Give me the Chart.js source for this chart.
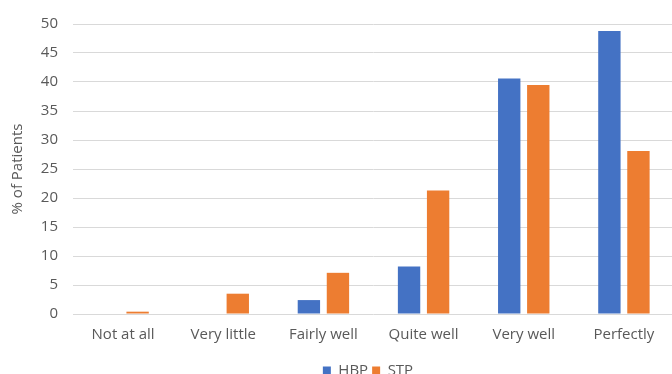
<!DOCTYPE html>
<html>
<head>
<meta charset="utf-8">
<script src="https://cdn.jsdelivr.net/npm/chart.js@4/dist/chart.umd.min.js"></script>
<style>
  html, body { margin: 0; padding: 0; background: #fff; overflow: hidden; }
  #wrap { position: relative; width: 674px; height: 388px; }
</style>
</head>
<body>
<div id="wrap"><canvas id="chart"></canvas></div>
<script>
// Response categories
const categories = ['Not at all', 'Very little', 'Fairly well', 'Quite well', 'Very well', 'Perfectly'];
// Percentage of patients per response
const hbpValues = [0, 0, 2.4, 8.2, 40.6, 48.8];
const stpValues = [0.4, 3.5, 7.1, 21.3, 39.5, 28.1];
const seriesNames = ['HBP', 'STP'];
const yTicks = [0, 5, 10, 15, 20, 25, 30, 35, 40, 45, 50];

const FONT = "'Open Sans', 'Liberation Sans', sans-serif";
const TEXT = '#595959';

// Nudge the legend row to the right of the canvas centre
const legendShift = {
  id: 'legendShift',
  afterLayout(chart) {
    const lg = chart.legend;
    if (lg) { lg.left += 31; lg.right += 31; }
  }
};

new Chart(document.getElementById('chart'), {
  type: 'bar',
  data: {
    labels: categories,
    datasets: [
      { label: seriesNames[0], data: hbpValues, backgroundColor: '#4472C4', borderWidth: 0 },
      { label: seriesNames[1], data: stpValues, backgroundColor: '#ED7D31', borderWidth: 0 }
    ]
  },
  plugins: [legendShift],
  options: {
    responsive: true,
    maintainAspectRatio: false,
    animation: false,
    devicePixelRatio: 1,
    layout: { padding: { top: 15, right: 0, bottom: 0, left: 0 } },
    datasets: { bar: { categoryPercentage: 0.58, barPercentage: 0.77 } },
    plugins: {
      tooltip: { enabled: false },
      legend: {
        position: 'bottom',
        labels: {
          color: TEXT,
          font: { family: FONT, size: 15 },
          boxWidth: 8,
          boxHeight: 8,
          padding: 4
        }
      }
    },
    scales: {
      x: {
        grid: { display: false, drawTicks: false },
        border: { display: false },
        ticks: { color: TEXT, font: { family: FONT, size: 15 }, padding: 12, maxRotation: 0 },
        afterFit: (s) => { s.height = 45; }
      },
      y: {
        min: 0,
        max: 50,
        afterBuildTicks: (s) => { s.ticks = yTicks.map(v => ({ value: v })); },
        grid: { color: '#d9d9d9', lineWidth: 1, drawTicks: false },
        border: { display: false },
        ticks: { color: TEXT, font: { family: FONT, size: 15 }, padding: 15 },
        title: {
          display: true,
          text: '% of Patients',
          color: TEXT,
          font: { family: FONT, size: 15 },
          padding: { top: 9, bottom: 0 }
        },
        afterFit: (s) => { s.width = 73; }
      }
    }
  }
});
</script>
</body>
</html>
